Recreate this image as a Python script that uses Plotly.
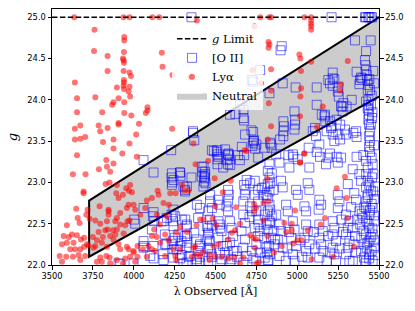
import plotly.graph_objects as go

# ---------------- data ----------------
g_limit = 25.0
lambda_range = [3500, 5500]
x_ticks = [3500, 3750, 4000, 4250, 4500, 4750, 5000, 5250, 5500]
y_ticks = [22.0, 22.5, 23.0, 23.5, 24.0, 24.5, 25.0]

# Neutral region (parallelogram): lambda, g
neutral_lambda = [3727, 5500, 5500, 3727]
neutral_g = [22.10, 24.04, 25.00, 22.78]

# Ly-alpha emitters (lambda [A], g)
lya_top = [(3636, 25.0), (3938, 25.0), (3974, 25.0), (4114, 25.0), (4156, 25.0), (4774, 25.0),
           (4829, 25.0), (4841, 25.0), (5044, 25.0), (5085, 25.0), (4386, 24.96), (5085, 24.96),
           (5085, 24.92), (5085, 24.89), (5085, 24.85), (4738, 24.89)]
lya_upper = [(3760, 24.85), (3757, 24.59), (3840, 24.53), (3942, 24.76), (3942, 24.72), (3940, 24.58),
             (3934, 24.50), (3938, 24.48), (3940, 24.45), (3938, 24.35), (3974, 24.33), (3983, 24.29),
             (3940, 24.24), (3940, 24.21), (3938, 24.17), (3940, 24.13), (3974, 24.16), (3968, 24.10),
             (3978, 24.04), (3897, 24.15), (3907, 24.02), (3840, 24.35), (3640, 24.21), (3653, 24.02),
             (3765, 24.03), (3653, 23.85), (3807, 23.85), (3876, 23.97), (3868, 23.94), (3942, 23.97),
             (3942, 23.84), (3985, 23.81), (4084, 23.91), (4084, 23.87), (4074, 23.84), (3907, 23.72),
             (3907, 23.70), (3785, 23.69), (3673, 23.69), (3640, 23.65), (3840, 23.66), (3795, 23.62),
             (4032, 23.71), (4015, 23.58), (3640, 23.52), (3673, 23.53), (3703, 23.55), (3812, 23.49),
             (3876, 23.52), (3974, 23.47), (3876, 23.41), (3930, 23.35), (3653, 23.33), (3832, 23.27),
             (4019, 23.31), (4235, 23.65), (4172, 24.57), (4176, 24.40), (4237, 24.30), (4345, 24.27),
             (4365, 23.47), (4431, 24.05), (4824, 24.70), (4824, 24.63), (4726, 24.36), (4779, 24.20),
             (4830, 24.67), (5013, 24.55), (5019, 24.50), (4840, 24.37), (5023, 24.35), (5085, 24.46),
             (5309, 24.47), (4840, 24.11), (5023, 24.14), (5019, 24.04), (5268, 24.19), (5262, 24.11),
             (4826, 23.96), (5156, 23.92), (5017, 23.80), (4840, 23.68), (5121, 23.67), (4820, 23.52),
             (4677, 23.39), (5044, 23.35), (5017, 23.24), (4690, 23.38)]
lya_lower_left = [(3628, 23.10), (3705, 23.10), (3787, 23.16), (3836, 23.19), (3856, 23.13), (3876, 23.23),
                  (3828, 22.98), (3852, 23.00), (3897, 22.97), (3954, 22.93), (3989, 22.88), (3693, 22.89),
                  (3693, 22.87), (3718, 22.67), (3710, 22.61), (3648, 22.68), (3657, 22.57), (3669, 22.51),
                  (3591, 22.48), (3730, 22.56), (3791, 22.71), (3846, 22.67), (3846, 22.65), (3917, 22.63),
                  (3958, 22.69), (4009, 22.67), (4070, 22.69), (4111, 22.81), (4152, 22.85), (4182, 22.75),
                  (4223, 22.87), (3795, 22.50), (3836, 22.53), (3840, 22.43), (3887, 22.53), (3897, 22.43),
                  (3856, 22.35), (3887, 22.37), (3938, 22.38), (3948, 22.48), (3974, 22.54), (3775, 22.30),
                  (3805, 22.27), (3765, 22.23), (3836, 22.22), (3876, 22.31), (3907, 22.25), (3958, 22.22),
                  (3612, 22.19), (3642, 22.19), (3673, 22.19), (3697, 22.22), (3571, 22.35), (3602, 22.34),
                  (3622, 22.37), (3652, 22.36), (3677, 22.31), (3697, 22.33), (3561, 22.25), (3591, 22.27),
                  (3632, 22.27), (3547, 22.11), (3587, 22.10), (3628, 22.10), (3663, 22.12), (3703, 22.11),
                  (3561, 22.04), (3673, 22.06), (3714, 22.25), (3907, 22.81), (3968, 22.73), (3999, 22.73),
                  (4080, 22.78), (4146, 22.90), (3893, 22.87), (3934, 22.85), (3970, 22.90), (3978, 22.97),
                  (3785, 22.40), (3826, 22.42), (3873, 22.42), (3811, 22.34), (3750, 22.34), (3724, 22.24),
                  (3754, 22.21), (3999, 22.17), (3852, 22.09), (3978, 22.10), (3795, 22.09), (3775, 22.04),
                  (3765, 22.54), (3897, 22.57), (3917, 22.49), (3962, 22.53), (3846, 22.61), (4040, 22.61),
                  (4141, 22.61)]
lya_lower_mid = [(4023, 22.23), (4056, 22.19), (4090, 22.23), (4111, 22.19), (3999, 22.15), (4023, 22.10),
                 (4080, 22.10), (4131, 22.17), (4192, 22.11), (4009, 22.04), (3897, 22.06), (3948, 22.08),
                 (3917, 22.19), (3832, 22.11), (3805, 22.04), (3856, 22.02), (3934, 22.02), (3968, 22.19),
                 (4125, 22.43), (4111, 22.35), (4141, 22.34), (4162, 22.27), (4213, 22.30), (4243, 22.19),
                 (4260, 22.06), (4284, 22.19), (4365, 22.21), (4386, 22.13), (4406, 22.11), (4427, 22.55),
                 (4325, 22.40), (4264, 22.39), (4192, 22.37), (4203, 22.59), (4455, 23.26), (4378, 23.22),
                 (4296, 22.97), (4256, 22.87), (4308, 22.90), (4333, 22.90), (4215, 22.73), (4495, 23.05),
                 (4384, 22.48), (4160, 22.49), (4284, 22.46), (4254, 22.11), (4355, 22.10), (4467, 22.12)]
lya_lower_right = [(4593, 23.02), (4545, 22.88), (4817, 23.04), (4824, 22.77), (4793, 22.75), (4736, 22.74),
                   (4748, 22.69), (4736, 22.65), (4626, 22.70), (4498, 22.71), (4406, 22.55), (4483, 22.56),
                   (4504, 22.48), (4650, 22.50), (4620, 22.42), (4600, 22.39), (4793, 22.54), (4712, 22.36),
                   (4732, 22.33), (4748, 22.31), (4579, 22.31), (4518, 22.25), (4987, 22.66), (4921, 22.51),
                   (4966, 22.50), (4932, 22.40), (4966, 22.42), (4905, 22.23), (4976, 22.26), (5001, 22.30),
                   (5027, 22.30), (5042, 23.35), (4858, 22.15), (4671, 22.09), (4752, 22.02), (4650, 22.02),
                   (4538, 22.10), (4498, 22.10), (4422, 22.15), (4463, 22.06), (4616, 22.09), (5088, 22.07),
                   (5221, 22.10), (5143, 22.49), (5170, 22.57), (5241, 22.93), (5292, 23.07), (5302, 22.81),
                   (5308, 22.57), (5347, 22.22), (5018, 23.24), (5065, 22.42), (4818, 22.35), (4742, 22.21),
                   (4376, 22.22), (4488, 22.23), (4763, 22.03), (4580, 22.08)]

# [O II] emitters (lambda [A], g)
oii_upper = [(4353, 25.0), (5210, 25.0), (5414, 25.0), (5421, 25.0), (5435, 25.0), (5441, 25.0),
             (5449, 25.0), (5457, 25.0), (4905, 24.65), (4898, 24.60), (5353, 24.72), (5449, 24.72),
             (5421, 24.59), (4773, 24.36), (4722, 24.24), (4730, 24.22), (5217, 24.33), (5217, 24.26),
             (5190, 24.24), (5200, 24.20), (5251, 24.15), (5119, 24.15), (4990, 24.15), (5227, 24.25),
             (5217, 24.17), (5248, 24.10), (5254, 24.04), (5414, 24.48), (5418, 24.42), (5422, 24.36),
             (5425, 24.30), (5429, 24.24), (5435, 24.18), (5384, 24.24), (5398, 24.26), (5445, 24.12),
             (5363, 24.34), (5390, 24.27), (5441, 24.25), (5380, 24.19), (5431, 24.12), (4911, 24.20),
             (4830, 24.08), (5333, 24.00), (5282, 23.96), (5272, 23.92), (5119, 23.94), (5150, 23.82),
             (5170, 23.82), (5302, 23.92), (5268, 23.92), (5278, 23.86), (4983, 23.86), (5435, 24.00),
             (5437, 23.94), (5435, 23.88), (5439, 23.82), (5435, 23.76), (5439, 23.70), (5451, 23.94),
             (5457, 23.78), (5421, 23.98), (5431, 23.90), (5241, 23.76), (5262, 23.70), (5292, 23.64),
             (5200, 23.74), (5210, 23.68), (5109, 23.66), (5180, 23.62), (5251, 23.58), (5262, 23.52),
             (5343, 23.60), (5363, 23.55), (5445, 23.62), (5439, 23.56), (5445, 23.50), (5439, 23.43),
             (5445, 23.37), (4987, 23.76), (4987, 23.70), (4983, 23.64), (4915, 23.74), (4919, 23.68),
             (4915, 23.62), (4834, 23.48), (4844, 23.42), (4895, 23.52), (4915, 23.56), (4732, 23.50),
             (4726, 23.44), (4681, 23.58), (4671, 23.78), (4589, 23.82), (4650, 23.94), (4508, 23.37),
             (4518, 23.31), (4579, 23.35), (4946, 23.33), (4976, 23.31), (5119, 23.37), (5139, 23.31),
             (5200, 23.35), (5241, 23.31), (5363, 23.31), (5404, 23.33), (5166, 23.80), (5172, 23.74),
             (4840, 23.46), (5095, 23.62), (5115, 23.56), (5207, 23.66), (5217, 23.58), (5227, 23.50),
             (5298, 23.58), (5360, 23.62), (5135, 23.46), (5070, 23.42), (5186, 23.30), (5268, 23.30),
             (4973, 23.34), (5003, 23.28), (4871, 23.34), (4891, 23.24), (4952, 23.18), (5074, 23.18),
             (5176, 23.22), (5248, 23.24), (5339, 23.16), (5470, 23.45), (5455, 23.30), (5450, 23.70),
             (5460, 23.85), (5455, 24.05), (5470, 24.20), (5465, 24.35), (4671, 23.88), (4362, 23.62),
             (4229, 23.39), (4478, 23.39), (4490, 23.38)]
oii_right = [(5421, 23.26), (5431, 23.18), (5421, 23.10), (5431, 23.02), (5421, 22.94), (5431, 22.85),
             (5421, 22.77), (5461, 23.22), (5457, 23.06), (5465, 22.89), (5380, 23.10), (5390, 23.02),
             (4830, 23.22), (4820, 23.14), (4830, 23.06), (4820, 22.98), (4830, 22.89), (4820, 22.81),
             (4830, 22.73), (4820, 22.65), (4901, 23.02), (4911, 22.94), (4993, 22.91), (5003, 22.85),
             (5064, 22.99), (5074, 22.91), (5135, 22.79), (5146, 22.73), (5131, 22.67), (5248, 22.85),
             (5258, 22.77), (5248, 22.69), (5309, 22.98), (5349, 22.87), (5360, 22.79), (4932, 22.73),
             (4942, 22.65), (5044, 22.71), (5054, 22.65), (4871, 22.61), (5380, 22.65), (5400, 22.57),
             (5385, 22.49), (5405, 22.41), (5392, 22.33), (5410, 22.25), (5390, 22.17), (5408, 22.09),
             (5421, 22.69), (5441, 22.61), (5425, 22.53), (5441, 22.45), (5421, 22.37), (5441, 22.29),
             (5425, 22.21), (5441, 22.13), (5421, 22.05), (5461, 22.69), (5471, 22.53), (5461, 22.37),
             (5471, 22.21), (5461, 22.05), (5298, 22.61), (5319, 22.53), (5309, 22.45), (5298, 22.37),
             (5319, 22.29), (5309, 22.21), (5298, 22.13), (5319, 22.05), (5217, 22.53), (5227, 22.45),
             (5217, 22.37), (5237, 22.29), (5217, 22.21), (5227, 22.13), (5237, 22.05), (5135, 22.49),
             (5156, 22.41), (5135, 22.33), (5146, 22.25), (5156, 22.17), (5135, 22.09), (5054, 22.49),
             (5064, 22.41), (5044, 22.33), (5074, 22.25), (5054, 22.17), (5064, 22.09), (4973, 22.53),
             (4983, 22.43), (4963, 22.33), (4993, 22.23), (4973, 22.13), (4983, 22.05), (4891, 22.49),
             (4901, 22.41), (4881, 22.31), (4911, 22.21), (4891, 22.11), (4830, 22.53), (4820, 22.43),
             (4840, 22.33), (4826, 22.23), (4834, 22.13), (4820, 22.05), (5440, 22.97), (5450, 22.90),
             (5430, 22.82), (5455, 22.74), (5445, 22.66), (5470, 22.60), (5435, 22.50), (5460, 22.44),
             (5450, 22.34), (5430, 22.27), (5470, 22.30), (5455, 22.17), (5440, 22.08), (5475, 22.12),
             (5415, 22.02), (5395, 22.62), (5410, 22.70), (5470, 22.80), (5480, 22.95), (5465, 23.10),
             (5340, 22.45), (5355, 22.35), (5345, 22.25), (5360, 22.15), (5340, 22.05), (5365, 22.55),
             (5330, 22.70), (5180, 22.05), (5200, 22.15), (5260, 22.20), (5280, 22.40), (5190, 22.35),
             (5270, 22.55), (5110, 22.20), (5100, 22.40), (5020, 22.30), (5030, 22.10), (4940, 22.20),
             (4950, 22.40), (4860, 22.25), (4930, 22.05)]
oii_mid = [(4675, 23.75), (4622, 23.83), (4720, 23.63), (4730, 23.61), (4736, 23.51), (4363, 23.60),
           (4370, 23.51), (4512, 23.39), (4512, 23.34), (4512, 23.28), (4512, 23.22), (4577, 23.34),
           (4588, 23.28), (4577, 23.22), (4547, 23.18), (4638, 23.33), (4649, 23.27), (4435, 23.10),
           (4435, 23.05), (4439, 22.99), (4282, 23.12), (4286, 23.08), (4231, 23.06), (4235, 23.00),
           (4353, 23.06), (4750, 23.46), (4761, 23.30), (4801, 23.42), (4516, 22.79), (4526, 22.73),
           (4577, 22.91), (4581, 22.85), (4577, 22.78), (4567, 22.71), (4577, 22.65), (4675, 22.97),
           (4683, 22.91), (4679, 22.85), (4670, 22.77), (4740, 23.02), (4761, 22.91), (4740, 22.85),
           (4761, 22.77), (4801, 22.94), (4812, 22.85), (4394, 22.57), (4455, 22.65), (4323, 22.47),
           (4231, 22.61), (4241, 22.53), (4170, 22.53), (4272, 22.37), (4292, 22.29), (4370, 22.39),
           (4384, 22.31), (4455, 22.45), (4455, 22.37), (4465, 22.29), (4455, 22.21), (4475, 22.13),
           (4455, 22.05), (4527, 22.49), (4537, 22.41), (4517, 22.33), (4547, 22.23), (4527, 22.15),
           (4537, 22.07), (4588, 22.53), (4598, 22.45), (4608, 22.35), (4588, 22.27), (4608, 22.17),
           (4598, 22.07), (4670, 22.61), (4680, 22.51), (4659, 22.41), (4680, 22.31), (4670, 22.21),
           (4690, 22.11), (4670, 22.03), (4750, 22.65), (4761, 22.55), (4740, 22.45), (4761, 22.35),
           (4750, 22.25), (4771, 22.15), (4750, 22.05), (4801, 22.61), (4812, 22.49), (4798, 22.33),
           (4812, 22.21), (4801, 22.09), (4190, 22.37), (4200, 22.25), (4180, 22.13), (4241, 22.29),
           (4262, 22.19), (4241, 22.09), (4323, 22.21), (4343, 22.11), (4323, 22.03), (4394, 22.17),
           (4384, 22.07), (4559, 23.40), (4579, 23.33), (4569, 23.27), (4590, 23.21), (4661, 23.43),
           (4675, 23.33), (4732, 23.48), (4742, 23.41), (4427, 23.19), (4437, 23.13), (4431, 23.07),
           (4233, 23.11), (4315, 22.91), (4325, 22.95), (4467, 22.85), (4467, 22.77), (4478, 22.69),
           (4691, 23.03), (4712, 22.99), (4783, 22.93), (4793, 22.85), (4844, 23.11), (4834, 22.99),
           (4855, 22.91), (4712, 22.71), (4722, 22.65), (4708, 22.58), (4834, 22.67), (4844, 22.59),
           (4834, 22.51), (4243, 22.67), (4253, 22.59), (4315, 22.55), (4325, 22.49), (4467, 22.55),
           (4478, 22.48), (4518, 22.53), (4529, 22.45), (4763, 22.49), (4773, 22.41), (4855, 22.41),
           (4865, 22.31), (4233, 22.25), (4243, 22.19), (4315, 22.35), (4325, 22.27), (4406, 22.23),
           (4467, 22.19), (4478, 22.10), (4569, 22.23), (4559, 22.15), (4630, 22.17), (4630, 22.10),
           (4722, 22.17), (4732, 22.08), (4814, 22.15), (4824, 22.06), (4284, 22.08), (4304, 22.02),
           (4386, 22.03), (4406, 22.02), (4529, 22.02), (4590, 22.02)]
oii_left = [(4060, 23.27), (4121, 23.12), (4243, 23.03), (4233, 22.97), (4284, 23.12), (4304, 22.95),
            (4314, 22.89), (4416, 23.19), (4420, 23.13), (4416, 23.07), (4430, 23.01), (4426, 22.95),
            (4060, 22.69), (4003, 22.55), (4009, 22.50), (4117, 22.59), (4125, 22.53), (4182, 22.53),
            (4203, 22.57), (4294, 22.55), (4243, 22.47), (4386, 22.73), (4406, 22.69), (4111, 22.43),
            (4060, 22.23), (4121, 22.23), (4192, 22.25), (4253, 22.33), (4284, 22.23), (4325, 22.35),
            (4406, 22.25), (4294, 22.12), (4335, 22.10), (4406, 22.10), (4121, 22.08), (4182, 22.06),
            (3907, 22.02), (3999, 22.02), (4447, 22.47), (4457, 22.39), (4447, 22.31), (4121, 22.64),
            (4060, 22.29), (4060, 22.21), (4101, 22.11), (3917, 22.01)]

lya = lya_top + lya_upper + lya_lower_left + lya_lower_mid + lya_lower_right
oii = oii_upper + oii_right + oii_mid + oii_left
lya_lambda = [p[0] for p in lya]
lya_g = [p[1] for p in lya]
oii_lambda = [p[0] for p in oii]
oii_g = [p[1] for p in oii]

# ---------------- figure ----------------
SANS = "DejaVu Sans"
SERIF = "DejaVu Serif"

fig = go.Figure()

# Neutral region fill
fig.add_trace(go.Scatter(
    x=neutral_lambda + [neutral_lambda[0]], y=neutral_g + [neutral_g[0]],
    mode="lines", fill="toself", fillcolor="rgb(204,204,204)",
    line=dict(width=0, color="rgba(0,0,0,0)"), name="Neutral", legendrank=4,
    hoverinfo="skip"))
# Neutral region edges (black)
edge_order = [1, 0, 3, 2]
fig.add_trace(go.Scatter(
    x=[neutral_lambda[i] for i in edge_order], y=[neutral_g[i] for i in edge_order],
    mode="lines", line=dict(color="black", width=2), showlegend=False, hoverinfo="skip"))

# [O II]
fig.add_trace(go.Scatter(
    x=oii_lambda, y=oii_g, mode="markers", name="[O II]", legendrank=2,
    marker=dict(symbol="square-open", size=9, color="rgba(0,0,255,0.55)", line=dict(width=1))))
# Ly alpha
fig.add_trace(go.Scatter(
    x=lya_lambda, y=lya_g, mode="markers", name="Lyα", legendrank=3,
    marker=dict(symbol="circle", size=6, color="rgba(255,0,0,0.55)", line=dict(width=0))))
# g limit
fig.add_trace(go.Scatter(
    x=lambda_range, y=[g_limit, g_limit], mode="lines", name="<i>g</i> Limit", legendrank=1,
    line=dict(color="black", width=1.5, dash="5.5px,2.4px")))
# invisible trace for right axis
fig.add_trace(go.Scatter(
    x=lambda_range, y=[g_limit, g_limit], yaxis="y2", mode="lines",
    line=dict(color="rgba(0,0,0,0)", width=0), showlegend=False, hoverinfo="skip"))

axis_common = dict(showgrid=False, zeroline=False, ticks="outside", ticklen=3.5, tickwidth=0.8,
                   tickcolor="black", automargin=False,
                   tickfont=dict(family=SANS, size=8.3, color="black"))

fig.update_layout(
    width=415, height=311,
    margin=dict(l=52, r=36, t=9, b=46, autoexpand=False),
    paper_bgcolor="white", plot_bgcolor="white",
    xaxis=dict(range=lambda_range, tickvals=x_ticks, ticktext=[str(v) for v in x_ticks],
               showline=True, linecolor="black", linewidth=1, mirror=True,
               title=dict(text="λ Observed [Å]", font=dict(family=SERIF, size=11, color="black"),
                          standoff=6),
               **axis_common),
    yaxis=dict(range=[22.0, 25.1], tickvals=y_ticks, ticktext=[f"{v:.1f}" for v in y_ticks],
               showline=True, linecolor="black", linewidth=1, mirror=True,
               title=dict(text="<i>g</i>", font=dict(family=SERIF, size=13, color="black"),
                          standoff=6),
               **axis_common),
    yaxis2=dict(range=[22.0, 25.1], tickvals=y_ticks, ticktext=[f"{v:.1f}" for v in y_ticks],
                overlaying="y", side="right", showline=False, **axis_common),
    showlegend=True,
    legend=dict(x=0.367, y=0.94, xanchor="left", yanchor="top",
                bgcolor="rgba(255,255,255,0.8)", borderwidth=0,
                font=dict(family=SERIF, size=11.5, color="black"), tracegroupgap=0),
)

fig.write_html("out.html", config={"displayModeBar": False},
               post_script="document.body.style.margin='0';document.body.style.padding='0';")
